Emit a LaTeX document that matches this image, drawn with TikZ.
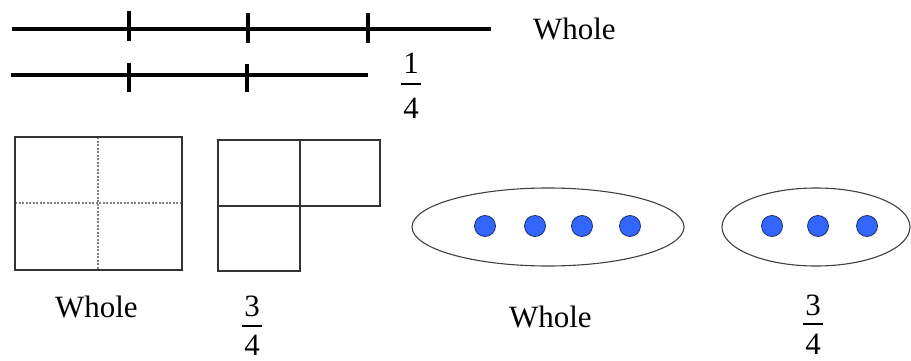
\documentclass[tikz,border=0pt]{standalone}
\usepackage{fontspec}
\setmainfont{Liberation Serif}
\begin{document}
\begin{tikzpicture}[x=1pt,y=-1pt,
  txt/.style={inner sep=0pt,outer sep=0pt,font=\fontsize{31}{37}\selectfont},
  numline/.style={line width=4pt,black},
  tick/.style={line width=3.5pt,black},
  box/.style={line width=2.4pt,draw=black!80},
  divline/.style={line width=1.5pt,draw=black!50,dash pattern=on 2pt off 1.5pt},
  bag/.style={line width=1.1pt,draw=black!75},
  dot/.style={circle,minimum size=21pt,inner sep=0pt,fill={rgb,255:red,51;green,102;blue,255},draw={rgb,255:red,30;green,50;blue,100},line width=0.8pt},
  fbar/.style={line width=1.6pt,black}]
\useasboundingbox (0,0) rectangle (911,361);
% number lines
\draw[numline] (12,29) -- (491,29);
\draw[tick] (129,11) -- (129,41);
\draw[tick] (248,13) -- (248,43);
\draw[tick] (368,13) -- (368,43);
\draw[numline] (11,75) -- (368,75);
\draw[tick] (129,63) -- (129,92);
\draw[tick] (247,64) -- (247,92);
\node[txt,anchor=base west] (w1) at (533,40) {Whole};
\node[txt,anchor=base] (n1) at (411,74) {1};
\draw[fbar] (401,84) -- (421,84);
\node[txt,anchor=base] (d1) at (411,118) {4};
% rectangles
\draw[divline] (98,137) -- (98,270);
\draw[divline] (15,203) -- (182,203);
\draw[box] (15,137) rectangle (182,270);
\draw[box] (218,140) rectangle (300,271);
\draw[box] (300,140) rectangle (380,206);
\draw[box] (218,206) -- (300,206);
\node[txt,anchor=base west] (w2) at (55,317) {Whole};
\node[txt,anchor=base] (n2) at (252,316) {3};
\draw[fbar] (242,326) -- (262,326);
\node[txt,anchor=base] (d2) at (252,355) {4};
% sets
\draw[bag] (548,227) ellipse [x radius=136, y radius=39];
\node[dot] (a1) at (485,226) {};
\node[dot] (a2) at (535,226) {};
\node[dot] (a3) at (582,226) {};
\node[dot] (a4) at (630,226) {};
\draw[bag] (816,227) ellipse [x radius=94, y radius=39];
\node[dot] (b1) at (772,226) {};
\node[dot] (b2) at (818,226) {};
\node[dot] (b3) at (867,226) {};
\node[txt,anchor=base west] (w3) at (509,327) {Whole};
\node[txt,anchor=base] (n3) at (813,315) {3};
\draw[fbar] (803,324) -- (823,324);
\node[txt,anchor=base] (d3) at (813,354) {4};
\end{tikzpicture}
\end{document}
